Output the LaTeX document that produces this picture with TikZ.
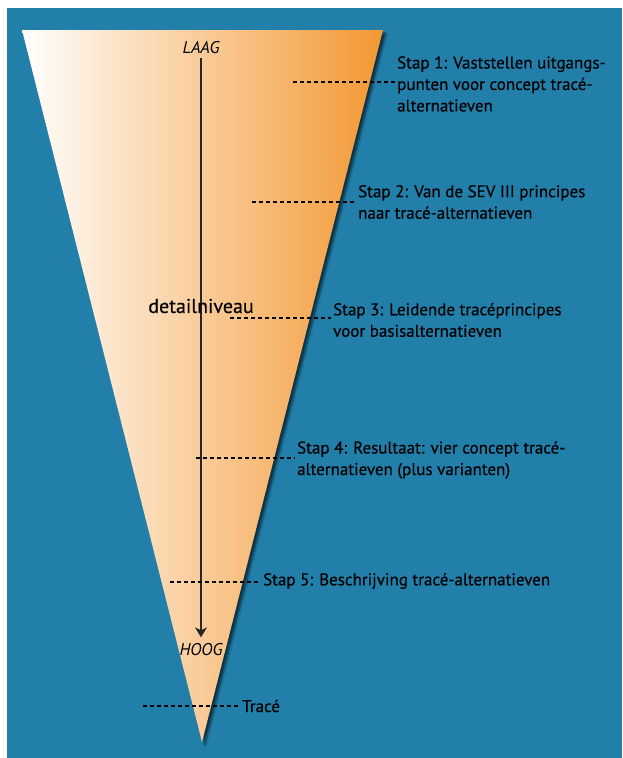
\documentclass[tikz,border=0pt]{standalone}
\usepackage{fontspec}
\setmainfont{PT Sans}
\newfontfamily\stapfamily[FakeBold=0.4]{PT Sans}
\usetikzlibrary{arrows.meta,shadows.blur}
\definecolor{seablue}{RGB}{33,127,170}
\definecolor{funnelorange}{RGB}{243,152,50}
\newcommand{\stapfont}{\stapfamily\fontsize{17}{21.5}\selectfont}
\tikzset{
  leader/.style = {dash pattern = on 4pt off 3pt, line width = 1.5pt},
  stap/.style = {anchor = west, align = left, inner sep = 2pt, font = \stapfont},
  level/.style = {font = \fontsize{17}{18}\selectfont\itshape}
}

\begin{document}
\begin{tikzpicture}[x = 1pt, y = -1pt]
\useasboundingbox (0,0) rectangle (622,758);
\fill[seablue] (7,8) rectangle (622,758);

% the funnel
\shade[left color = white, right color = funnelorange,
  blur shadow = {shadow xshift = 3pt, shadow yshift = -3pt, shadow blur steps = 6, shadow opacity = 60}]
  (22,30) -- (383,30) -- (202,742) -- cycle;

\node[level] (laag) at (201,48) {LAAG};
\node[level] (hoog) at (201,650) {HOOG};
\draw [line width = 1.4pt, black!85, -{Stealth[length = 10pt, width = 12pt, inset = 3pt]}] (laag.south) -- ([yshift = 3pt]hoog.north);
\node[font = \stapfamily\fontsize{20}{22}\selectfont] (detail) at (201,306) {detailniveau};

\coordinate (d1) at (293,82);
\coordinate (d2) at (252,202);
\coordinate (d3) at (230,318);
\coordinate (d4) at (196,458);
\coordinate (d5) at (170,582);
\coordinate (d6) at (143,706);

\node[stap] (s1) at (395,84) {Stap 1: Vaststellen uitgangs-\\punten voor concept trac\'e-\\alternatieven};
\node[stap] (s2) at (356,202) {Stap 2: Van de SEV III principes\\naar trac\'e-alternatieven};
\node[stap] (s3) at (331,320) {Stap 3: Leidende trac\'eprincipes\\voor basisalternatieven};
\node[stap] (s4) at (295,460) {Stap 4: Resultaat: vier concept trac\'e-\\alternatieven (plus varianten)};
\node[stap] (s5) at (261,581) {Stap 5: Beschrijving trac\'e-alternatieven};
\node[stap] (s6) at (240,706) {Trac\'e};

\draw [leader] (d1) -- (d1 -| s1.west);
\draw [leader] (d2) -- (d2 -| s2.west);
\draw [leader] (d3) -- (d3 -| s3.west);
\draw [leader] (d4) -- (d4 -| s4.west);
\draw [leader] (d5) -- (d5 -| s5.west);
\draw [leader] (d6) -- (d6 -| s6.west);
\end{tikzpicture}
\end{document}
